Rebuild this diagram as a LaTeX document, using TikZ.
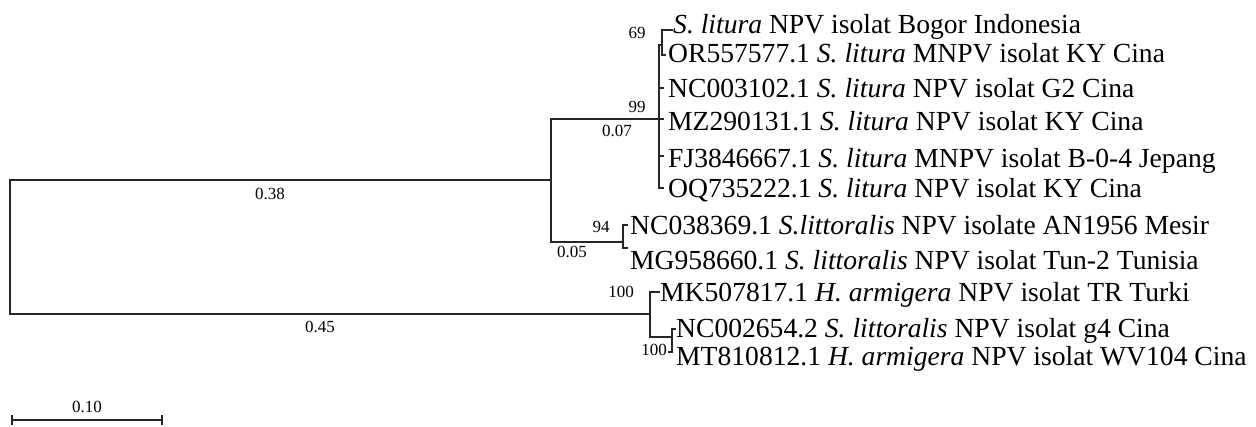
\documentclass[tikz,border=0pt]{standalone}
\usepackage{fontspec}
\setmainfont{Liberation Serif}
\begin{document}
\begin{tikzpicture}[x=1pt,y=-1pt,
  br/.style={line width=1.6pt, draw=black!85, line cap=rect},
  leaf/.style={anchor=base west, inner sep=0pt, font=\fontsize{27.6}{30}\selectfont},
  blab/.style={inner sep=0pt, font=\fontsize{17}{20}\selectfont}]
\useasboundingbox (0,0) rectangle (1256,426);
% tree nodes
\coordinate (R1) at (10,180); \coordinate (R2) at (10,314);
\coordinate (A) at (551,180); \coordinate (A1) at (551,119); \coordinate (A2) at (551,242);
\coordinate (B) at (659,119); \coordinate (B1) at (659,45); \coordinate (B2) at (659,188);
\coordinate (C) at (662,45); \coordinate (C1) at (662,30); \coordinate (C2) at (662,55);
\coordinate (D) at (623,242); \coordinate (D1) at (623,225); \coordinate (D2) at (623,248);
\coordinate (E) at (650,314); \coordinate (E1) at (650,292); \coordinate (E2) at (650,337);
\coordinate (F) at (672,337); \coordinate (F1) at (672,329); \coordinate (F2) at (672,352);
\coordinate (B3) at (659,88); \coordinate (B5) at (659,156);
% tips
\coordinate (t1) at (672,30); \coordinate (t2) at (665,55); \coordinate (t3) at (663,88);
\coordinate (t4) at (663,119); \coordinate (t5) at (663,156); \coordinate (t6) at (663,188);
\coordinate (t7) at (627,225); \coordinate (t8) at (627,248); \coordinate (t9) at (659,292);
\coordinate (t10) at (675,329); \coordinate (t11) at (669,352);
% branches
\draw[br, line width=2.2pt] (R1) -- (R2);
\draw[br] (R1) -- (A); \draw[br] (A1) -- (A2);
\draw[br] (A1) -- (B); \draw[br] (B1) -- (B2);
\draw[br] (B1) -- (C); \draw[br] (C1) -- (C2);
\draw[br] (C1) -- (t1); \draw[br] (C2) -- (t2);
\draw[br] (B3) -- (t3); \draw[br] (B) -- (t4); \draw[br] (B5) -- (t5); \draw[br] (B2) -- (t6);
\draw[br] (A2) -- (D); \draw[br] (D1) -- (D2);
\draw[br] (D1) -- (t7); \draw[br] (D2) -- (t8);
\draw[br] (R2) -- (E); \draw[br] (E1) -- (E2);
\draw[br] (E1) -- (t9); \draw[br] (E2) -- (F); \draw[br] (F1) -- (F2);
\draw[br] (F1) -- (t10); \draw[br] (F2) -- (t11);
% leaf labels
\node[leaf] (n1) at (673,33) {\textit{S. litura} NPV isolat Bogor Indonesia};
\node[leaf] (n2) at (668,62) {OR557577.1 \textit{S. litura} MNPV isolat KY Cina};
\node[leaf] (n3) at (668,97) {NC003102.1 \textit{S. litura} NPV isolat G2 Cina};
\node[leaf] (n4) at (668,130) {MZ290131.1 \textit{S. litura} NPV isolat KY Cina};
\node[leaf] (n5) at (668,167) {FJ3846667.1 \textit{S. litura} MNPV isolat B-0-4 Jepang};
\node[leaf] (n6) at (668,197) {OQ735222.1 \textit{S. litura} NPV isolat KY Cina};
\node[leaf] (n7) at (630,234) {NC038369.1 \textit{S.littoralis} NPV isolate AN1956 Mesir};
\node[leaf] (n8) at (630,269) {MG958660.1 \textit{S. littoralis} NPV isolat Tun-2 Tunisia};
\node[leaf] (n9) at (660,301) {MK507817.1 \textit{H. armigera} NPV isolat TR Turki};
\node[leaf] (n10) at (676,337) {NC002654.2 \textit{S. littoralis} NPV isolat g4 Cina};
\node[leaf] (n11) at (676,365) {MT810812.1 \textit{H. armigera} NPV isolat WV104 Cina};
% branch labels
\node[blab] (b69) at (637,33) {69};
\node[blab] (b99) at (637,107) {99};
\node[blab] (b007) at (617,131) {0.07};
\node[blab] (b94) at (601,227) {94};
\node[blab] (b005) at (572,252) {0.05};
\node[blab] (b100a) at (621,292) {100};
\node[blab] (b100b) at (654,350) {100};
\node[blab] (b038) at (270,194) {0.38};
\node[blab] (b045) at (320,327) {0.45};
% scale bar
\coordinate (s1) at (12,420); \coordinate (s2) at (162,420);
\draw[br, line width=1.2pt, line cap=butt] (s1) -- (s2);
\draw[br, line width=1.2pt, line cap=butt] ([yshift=-5pt]s1) -- ([yshift=5pt]s1);
\draw[br, line width=1.2pt, line cap=butt] ([yshift=-5pt]s2) -- ([yshift=5pt]s2);
\node[blab] (sc) at (87,407) {0.10};
\end{tikzpicture}
\end{document}
